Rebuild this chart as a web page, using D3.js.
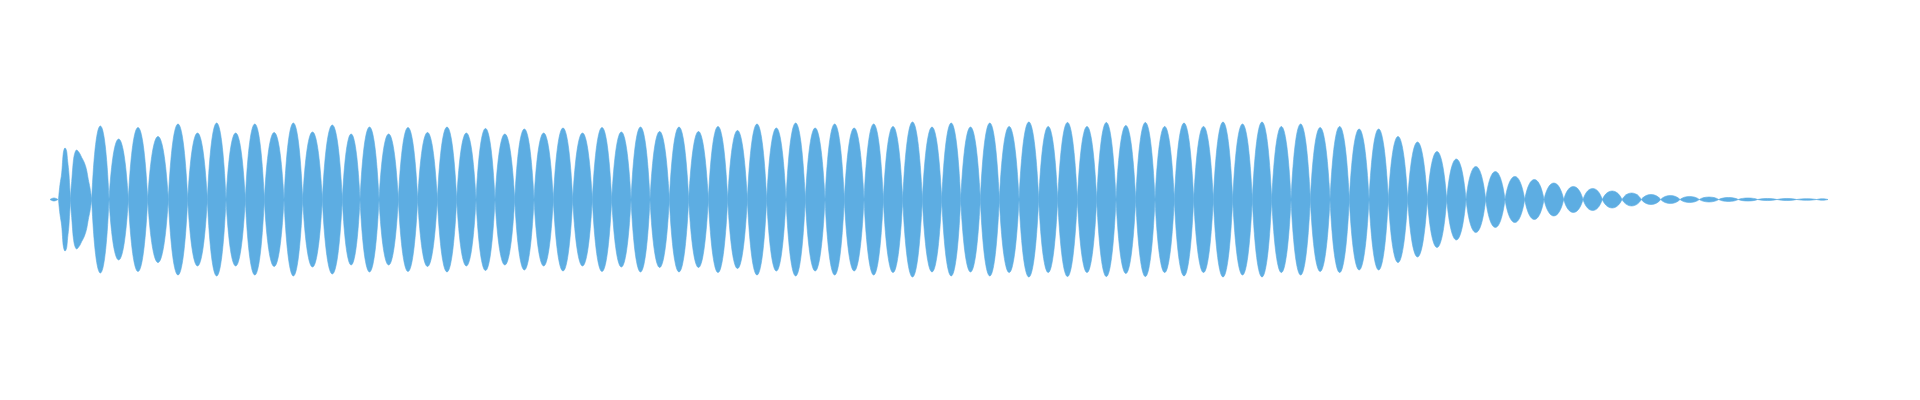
<!DOCTYPE html>
<html>
<head>
<meta charset="utf-8">
<script src="https://cdn.jsdelivr.net/npm/d3@7"></script>
<style>
  html, body { margin: 0; padding: 0; background: #ffffff; }
  svg { display: block; }
</style>
</head>
<body>
<svg id="chart" width="1920" height="400"></svg>
<script>
// Time positions (frames) of the envelope zero points between lobes 3..92
const lobeEdges = [
  41.7, 59, 78.3, 97.7, 118.3, 137.7, 157.3, 176, 195.3, 214.3,
  234, 252.7, 272.3, 292.3, 310, 329, 348.3, 367.7, 387.3, 406.7,
  426, 445, 464.7, 484, 503.3, 522.7, 542.3, 561.7, 581, 600,
  619.3, 638.7, 658.3, 677.7, 697.3, 716.7, 736, 755.3, 775, 794.3,
  814, 833.3, 852.7, 872.3, 891.7, 910.7, 930.3, 949.3, 969, 988.7,
  1007.7, 1027.3, 1046.7, 1066, 1085.7, 1105, 1124.3, 1143.7, 1163.3, 1182.7,
  1202.3, 1221.7, 1241, 1260.3, 1280, 1299.3, 1319, 1338.3, 1357.7, 1377.3,
  1396.7, 1416, 1435.7, 1455, 1474.7, 1494, 1513.7, 1533, 1552.3, 1572,
  1591.3, 1610.7, 1630, 1649.3, 1668.7, 1688.3, 1707.7, 1727, 1746.7, 1766.7,
  1778
];
// Peak amplitude (% of full scale) of lobes 3..92
const lobePeaks = [
  91.9, 75.6, 90, 78.8, 94.4, 83.1, 95.6, 83.1, 94.4, 83.8,
  95.6, 84.4, 93.1, 81.9, 90.6, 81.9, 90, 83.8, 90.6, 83.1,
  88.8, 81.9, 88.1, 83.1, 89.4, 83.1, 90, 84.4, 90.6, 85,
  90.6, 85, 91.3, 86.3, 94.4, 89.4, 95.6, 89.4, 94.4, 89.4,
  94.4, 91.3, 96.9, 90.6, 95.6, 90.6, 95.6, 91.3, 96.9, 91.3,
  96.3, 91.3, 96.3, 92.5, 96.3, 91.3, 95.6, 91.3, 96.9, 94.4,
  96.9, 91.3, 94.4, 90, 91.3, 88.1, 88.1, 78.8, 71.9, 60,
  50.6, 41.3, 35, 28.8, 25, 20.6, 16.3, 13.8, 10.6, 8.1,
  6.3, 5, 3.8, 3.1, 2.5, 1.9, 1.3, 1.3, 1, 0.9
];
// Onset: irregular first lobes, [frame, amplitude %]
const onsetLead = [[0, 0], [4, 1.9], [8, 0]];
const onsetLobe1 = [[8.5, 0], [9.2, 10], [10, 18.8], [11.7, 33.1], [13.3, 58.1], [15, 64.4], [16.7, 60], [17.7, 47.5], [19, 31.3], [20, 10], [20.5, 0]];
const onsetLobe2 = [[20.5, 0], [21, 12], [21.7, 22.5], [23.3, 47.5], [25, 58.8], [26.7, 61.9], [28.3, 60], [30, 56.9], [31.7, 52.5], [33.3, 48.8], [35, 43.8], [36.7, 36.3], [38.3, 25], [40, 14.4], [41.7, 0]];

const svg = d3.select("#chart");
const x = d3.scaleLinear().domain([0, 1780]).range([50, 1830]);
const y = d3.scaleLinear().domain([-100, 100]).range([279.5, 119.5]);
const color = "#5dade2";

const area = d3.area()
  .x(d => x(d[0]))
  .y0(d => y(-d[1]))
  .y1(d => y(d[1]))
  .curve(d3.curveMonotoneX);

const g = svg.append("g");

// irregular onset shapes
g.selectAll("path.onset")
  .data([onsetLead, onsetLobe1, onsetLobe2])
  .join("path")
  .attr("class", "onset")
  .attr("d", area)
  .attr("fill", color)
  .attr("stroke", color)
  .attr("stroke-width", 0.6)
  .attr("stroke-linejoin", "round");

// regular lobes: symmetric envelope drawn with cubic Bezier halves
const K = 0.25;
function lobePath(d) {
  const x0 = x(d.a), x1 = x(d.b), w = x1 - x0;
  const c = y(0);
  const h = (y(0) - y(d.p)) / 0.75;
  const p = d3.path();
  p.moveTo(x0, c);
  p.bezierCurveTo(x0 + K * w, c - h, x1 - K * w, c - h, x1, c);
  p.bezierCurveTo(x1 - K * w, c + h, x0 + K * w, c + h, x0, c);
  p.closePath();
  return p.toString();
}
const lobes = lobePeaks.map((p, i) => ({ a: lobeEdges[i], b: lobeEdges[i + 1], p }));
g.selectAll("path.lobe")
  .data(lobes)
  .join("path")
  .attr("class", "lobe")
  .attr("d", lobePath)
  .attr("fill", color)
  .attr("stroke", color)
  .attr("stroke-width", 0.6)
  .attr("stroke-linejoin", "round");
</script>
</body>
</html>
